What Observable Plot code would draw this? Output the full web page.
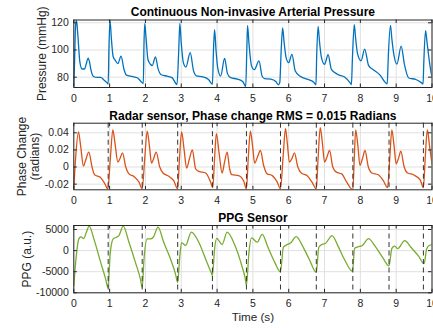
<!DOCTYPE html>
<html><head><meta charset="utf-8">
<script src="https://cdn.jsdelivr.net/npm/d3@7"></script>
<script src="https://cdn.jsdelivr.net/npm/@observablehq/plot@0.6"></script>
<style>
body{margin:0;background:#fff;}
#chart{width:433px;height:328px;overflow:hidden;position:relative;}
#chart svg{display:block;overflow:visible;}
</style></head><body><div id="chart"></div>
<script>
// ---- data ----
const bpTime = [0.00,0.02,0.05,0.075,0.11,0.17,0.23,0.30,0.35,0.40,0.44,0.47,0.55,0.66,0.75,0.84,0.93,0.96,
  0.98,1.01,1.05,1.10,1.16,1.23,1.32,1.40,1.47,1.63,1.77,1.88,1.94,
  1.96,1.98,2.02,2.07,2.14,2.19,2.28,2.35,2.44,2.61,2.75,2.88,
  2.93,2.96,3.00,3.06,3.13,3.25,3.34,3.42,3.60,3.76,3.87,
  3.90,3.93,3.97,4.02,4.10,4.21,4.29,4.38,4.56,4.72,4.80,
  4.83,4.85,4.89,4.96,5.04,5.17,5.26,5.33,5.50,5.64,5.71,
  5.75,5.79,5.83,5.87,5.93,6.00,6.09,6.18,6.32,6.51,6.70,6.76,
  6.78,6.82,6.86,6.91,7.00,7.10,7.19,7.37,7.56,7.72,7.75,
  7.78,7.83,7.87,7.92,8.02,8.12,8.23,8.36,8.55,8.70,8.75,
  8.78,8.84,8.88,8.93,9.02,9.14,9.23,9.35,9.55,9.70,9.75,
  9.77,9.82,9.86,9.91,9.97,10.0];
const bpValue = [74,90,118,121.7,112,91,86,86,90,94,91,86.5,80.5,79.8,79.8,78,75.8,75,
  100,122,108,95,92.3,90,95.5,85.8,81.5,80.5,79.6,76.7,75.3,
  105,119.3,108,93,89.5,88.5,95,86.5,81.8,80.7,79.5,74.6,
  100,119.6,105,90.5,87.5,98,85,81,80.2,78.3,74.8,
  100,115,100,86.4,80.8,93.8,82.6,79.6,78.6,76.7,73.2,
  100,118.1,105,88.5,85.5,92,80.5,79,78.6,76.8,74.4,
  76,100,116.2,106,94,90.7,96.8,84.8,80.7,78.6,76.3,74.3,
  95,117.3,106,95,89.5,96.5,85.8,82,80.1,75.6,74.5,
  95,118.6,108,97.5,92,100.7,88.5,85.5,81.5,76,75,
  95,118,108,97.5,89.6,102.9,89.4,79.4,78.3,76,75,
  90,114.2,106,95,84,80];

const radarTime = [0.00,0.05,0.13,0.19,0.27,0.33,0.42,0.51,0.58,0.74,0.86,0.95,
  1.02,1.09,1.15,1.23,1.29,1.36,1.45,1.54,1.68,1.82,1.91,
  1.98,2.05,2.11,2.17,2.23,2.30,2.40,2.49,2.66,2.79,2.90,
  2.95,3.01,3.08,3.15,3.23,3.31,3.40,3.49,3.68,3.82,3.88,
  3.93,3.98,4.06,4.14,4.21,4.28,4.35,4.41,4.60,4.74,4.82,
  4.87,4.93,4.99,5.05,5.13,5.21,5.30,5.40,5.54,5.68,5.77,
  5.84,5.91,5.96,6.02,6.09,6.16,6.25,6.35,6.51,6.65,6.77,
  6.82,6.88,6.94,7.00,7.07,7.14,7.23,7.33,7.48,7.62,7.79,
  7.83,7.87,7.93,7.99,8.06,8.13,8.22,8.32,8.50,8.64,8.76,
  8.82,8.88,8.94,9.00,9.07,9.13,9.22,9.32,9.48,9.67,9.76,
  9.81,9.87,9.93,10.0];
const radarValue = [-0.025,0.01,0.041,0.025,0.001,0.008,0.0174,0,-0.009,-0.012,-0.019,-0.0255,
  0.01,0.0435,0.028,0.0057,0.01,0.0166,0,-0.008,-0.011,-0.0177,-0.0255,
  0.01,0.042,0.025,0.0045,0.01,0.0174,0,-0.007,-0.011,-0.016,-0.0255,
  0.01,0.041,0.02,-0.0013,0.01,0.02,-0.002,-0.005,-0.007,-0.0177,-0.024,
  0.01,0.039,0.015,-0.007,0.006,0.0174,-0.002,-0.009,-0.010,-0.016,-0.0255,
  0.01,0.042,0.025,0.0045,0.012,0.0193,0.0018,-0.008,-0.010,-0.0177,-0.0255,
  0.01,0.0447,0.028,0.0057,0.01,0.0166,0.0006,-0.007,-0.010,-0.0177,-0.0255,
  0.01,0.046,0.028,0.0057,0.012,0.0193,0,-0.006,-0.008,-0.0177,-0.0267,
  0.01,0.0435,0.025,0.0018,0.01,0.0193,0.0006,-0.007,-0.009,-0.016,-0.024,
  0.01,0.0435,0.025,0.0037,0.011,0.0185,0.0006,-0.007,-0.009,-0.015,-0.024,
  0.01,0.0435,0.025,0.0037];

const ppgTime = [0.00,0.07,0.14,0.20,0.28,0.35,0.43,0.56,0.75,0.89,0.95,
  1.02,1.10,1.19,1.26,1.38,1.54,1.72,1.86,1.91,
  1.96,2.05,2.14,2.22,2.35,2.51,2.70,2.84,2.90,
  2.96,3.01,3.12,3.28,3.49,3.68,3.84,3.87,
  3.93,3.99,4.14,4.28,4.50,4.69,4.78,4.82,
  4.89,4.96,5.12,5.26,5.42,5.61,5.77,
  5.85,5.93,6.05,6.21,6.38,6.57,6.77,
  6.84,6.94,7.03,7.21,7.37,7.55,7.78,
  7.84,7.93,8.04,8.23,8.40,8.62,8.80,
  8.88,8.96,9.04,9.24,9.41,9.63,9.78,
  9.85,9.92,10.0];
const ppgValue = [-8340,-1190,2780,3250,2850,4360,5800,2780,-2780,-6750,-8700,
  -400,2780,3170,3570,5800,1980,-2780,-6750,-8700,
  -2000,2780,2780,3170,5550,1980,-2000,-5560,-7600,
  -1190,1900,1220,4400,1980,-2000,-5300,-5900,
  400,2900,1450,4370,1190,-3580,-6350,-8180,
  -400,3000,2000,3850,800,-2780,-5050,
  800,1300,1800,3300,1190,-2000,-5150,
  800,1500,1750,3570,1190,-2000,-4900,
  550,900,1100,2850,1190,-1590,-3620,
  550,1050,450,2350,800,-1350,-3100,
  400,1200,1400];

const beatTimes = [0.96,1.91,2.90,3.87,4.82,5.77,6.77,7.79,8.80,9.76];

const xTicks = [0,1,2,3,4,5,6,7,8,9,10];
const bpTicks = [80,100,120];
const radarTicks = [-0.02,0,0.02,0.04];
const ppgTicks = [-10000,-5000,0,5000];

const titles = ["Continuous Non-invasive Arterial Pressure",
  "Radar sensor, Phase change RMS = 0.015 Radians",
  "PPG Sensor"];
const yLabels = ["Pressure (mmHg)", "Phase Change\n(radians)", "PPG (a.u.)"];
const xLabel = "Time (s)";

// ---- layout ----
const W = 433, ML = 73.3, MR = 1.5, TICK = 3.5;
const FONT = "'Liberation Sans', Arial, Helvetica, sans-serif";

function panel(o) {
  const data = o.time.map((t, i) => ({t, v: o.value[i]}));
  const fw = W - ML - MR, fh = o.height - o.mt - o.mb;
  const marks = [
    Plot.gridX(xTicks, {stroke: "#e0e0e0", strokeOpacity: 1}),
    Plot.gridY(o.yTicks, {stroke: "#e0e0e0", strokeOpacity: 1}),
    Plot.line(data, {x: "t", y: "v", stroke: o.color, strokeWidth: 1.3, curve: "monotone-x", clip: true}),
  ];
  if (o.beats) marks.push(Plot.ruleX(o.beats, {stroke: "#333", strokeWidth: 1, strokeDasharray: "5,3.5"}));
  marks.push(
    Plot.frame({stroke: "#262626", strokeWidth: 1}),
    Plot.ruleX(xTicks, {stroke: "#262626", insetTop: fh - TICK}),
    Plot.ruleX(xTicks, {stroke: "#262626", insetBottom: fh - TICK}),
    Plot.ruleY(o.yTicks, {stroke: "#262626", insetRight: fw - TICK}),
    Plot.ruleY(o.yTicks, {stroke: "#262626", insetLeft: fw - TICK}),
    Plot.axisX(xTicks, {anchor: "bottom", tickSize: 0, tickPadding: 7.2, fontSize: 10.5, label: null, tickFormat: d => String(d)}),
    Plot.axisY(o.yTicks, {anchor: "left", tickSize: 0, tickPadding: 5, fontSize: 10.5, label: null, tickFormat: o.yFormat}),
    Plot.text([o.title], {text: d => d, frameAnchor: "top", lineAnchor: "bottom", textAnchor: "middle", dy: -3.6, fontWeight: "bold", fontSize: 12, fill: "#000"}),
    Plot.text([o.ylabel], {text: d => d, frameAnchor: "left", rotate: -90, textAnchor: "middle", lineAnchor: "middle", dx: o.ylabelDx, fontSize: 12, lineHeight: 1.04, fill: "#262626"})
  );
  if (o.xlabel) marks.push(Plot.text([o.xlabel], {text: d => d, frameAnchor: "bottom", lineAnchor: "bottom", textAnchor: "middle", dy: 27.7, fontSize: 11.7, fill: "#262626"}));
  return Plot.plot({
    width: W, height: o.height,
    marginLeft: ML, marginRight: MR, marginTop: o.mt, marginBottom: o.mb,
    style: {fontFamily: FONT, fontSize: "10.5px", color: "#262626", background: "transparent", overflow: "visible"},
    x: {domain: [0, 10]},
    y: {domain: o.yDomain},
    marks
  });
}

const chart = document.getElementById("chart");
chart.append(panel({time: bpTime, value: bpValue, color: "#0072BD", yDomain: [72.4, 122.06], yTicks: bpTicks,
  yFormat: d => String(d), title: titles[0], ylabel: yLabels[0], ylabelDx: -32.3, height: 100, mt: 19.5, mb: 13}));
chart.append(panel({time: radarTime, value: radarValue, color: "#D95319", yDomain: [-0.0266, 0.0512], yTicks: radarTicks,
  yFormat: d => d === 0 ? "0" : d.toFixed(2), title: titles[1], ylabel: yLabels[1], ylabelDx: -45.5, beats: beatTimes,
  height: 105, mt: 22.7, mb: 15.7}));
chart.append(panel({time: ppgTime, value: ppgValue, color: "#77AC30", yDomain: [-10000, 5950], yTicks: ppgTicks,
  yFormat: d => String(d), title: titles[2], ylabel: yLabels[2], ylabelDx: -47.3, beats: beatTimes,
  height: 123, mt: 20, mb: 35.7, xlabel: xLabel}));
</script></body></html>
